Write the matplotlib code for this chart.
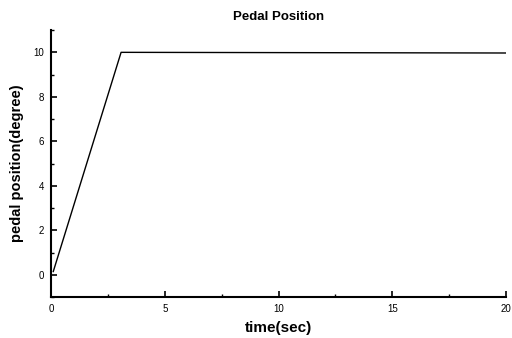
import matplotlib
matplotlib.use("Agg")
import matplotlib.pyplot as plt
from matplotlib.ticker import MultipleLocator

# pedal input
time_sec = [0.1, 3.08, 20.0]
pedal_deg = [0.15, 10.0, 9.97]

x_ticks = [0, 5, 10, 15, 20]
y_ticks = [0, 2, 4, 6, 8, 10]

plt.rcParams['font.family'] = ['Liberation Sans', 'DejaVu Sans']

fig = plt.figure(figsize=(5.12, 3.38), dpi=100)
ax = fig.add_axes([0.0996, 0.121, 0.889, 0.790])

ax.plot(time_sec, pedal_deg, color="black", linewidth=1.0)

ax.set_xlim(0, 20)
ax.set_ylim(-1, 11)
ax.set_xticks(x_ticks)
ax.set_yticks(y_ticks)
ax.xaxis.set_minor_locator(MultipleLocator(2.5))
ax.yaxis.set_minor_locator(MultipleLocator(1))

ax.spines["top"].set_visible(False)
ax.spines["right"].set_visible(False)
ax.spines["left"].set_linewidth(1.5)
ax.spines["bottom"].set_linewidth(1.5)
ax.tick_params(which="major", direction="in", length=4, width=1.2, labelsize=7, pad=5)
ax.tick_params(which="minor", direction="in", length=2, width=1.0)

ax.set_title("Pedal Position", fontsize=9.5, fontweight="bold", pad=7)
ax.set_xlabel("time(sec)", fontsize=11, fontweight="bold", labelpad=5)
ax.set_ylabel("pedal position(degree)", fontsize=10.5, fontweight="bold", labelpad=7)

fig.savefig("out.png", dpi=100)
